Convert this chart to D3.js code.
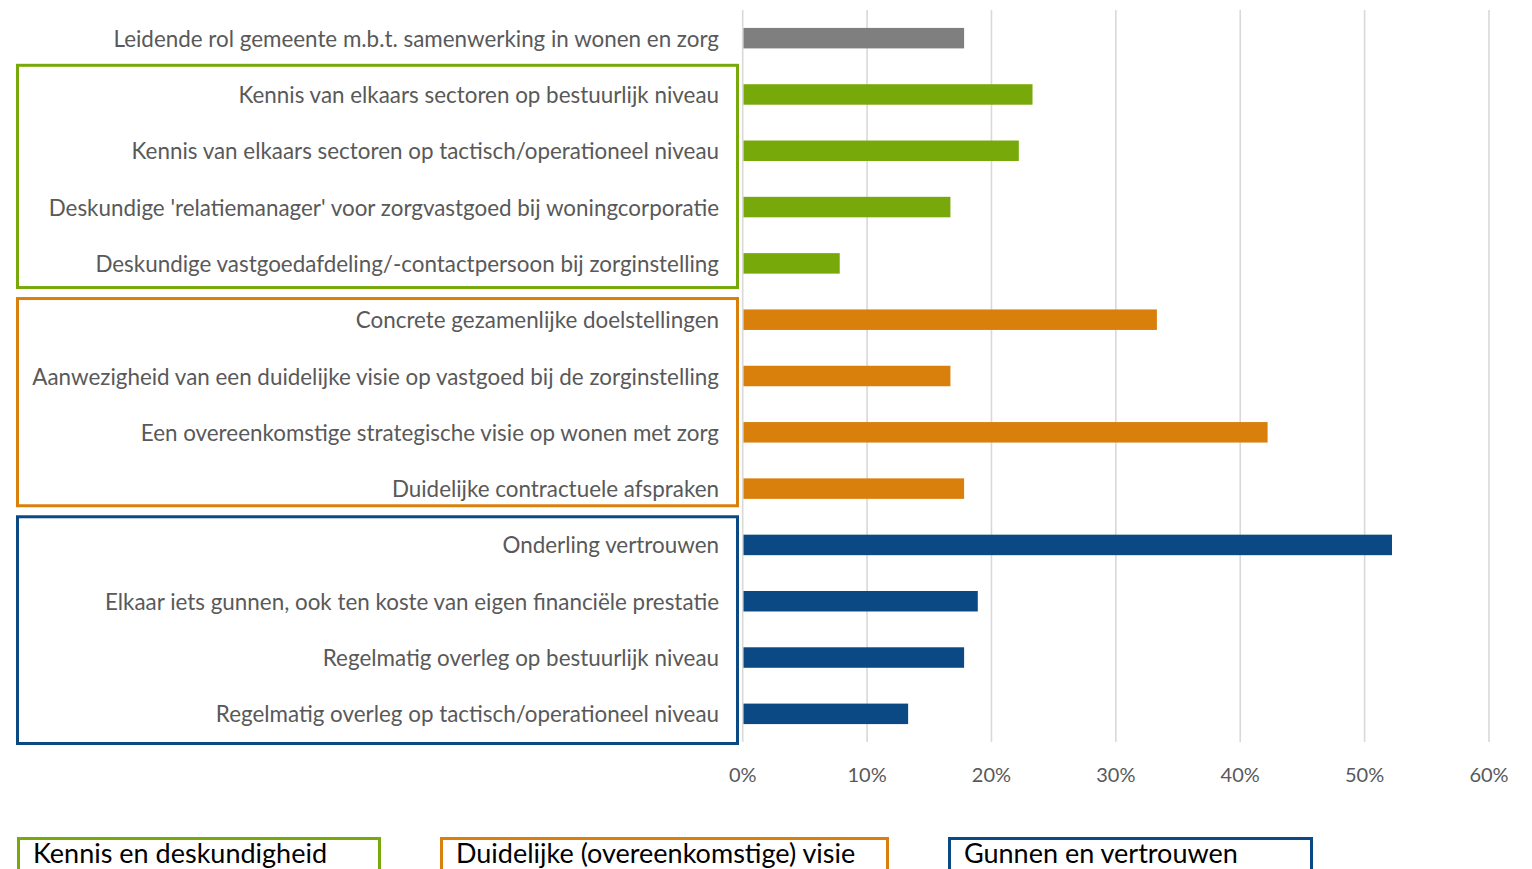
<!DOCTYPE html>
<html>
<head>
<meta charset="utf-8">
<script src="https://cdn.jsdelivr.net/npm/d3@7"></script>
<style>
  html, body { margin: 0; padding: 0; background: #fff; overflow: hidden; }
  svg { display: block; font-family: Lato, "Open Sans", sans-serif; }
</style>
</head>
<body>
<svg id="chart" width="1532" height="869"></svg>
<script>
// Factors for successful cooperation between housing and care (share of respondents, %)
const categories = [
  "Leidende rol gemeente m.b.t. samenwerking in wonen en zorg",
  "Kennis van elkaars sectoren op bestuurlijk niveau",
  "Kennis van elkaars sectoren op tactisch/operationeel niveau",
  "Deskundige 'relatiemanager' voor zorgvastgoed bij woningcorporatie",
  "Deskundige vastgoedafdeling/-contactpersoon bij zorginstelling",
  "Concrete gezamenlijke doelstellingen",
  "Aanwezigheid van een duidelijke visie op vastgoed bij de zorginstelling",
  "Een overeenkomstige strategische visie op wonen met zorg",
  "Duidelijke contractuele afspraken",
  "Onderling vertrouwen",
  "Elkaar iets gunnen, ook ten koste van eigen financiële prestatie",
  "Regelmatig overleg op bestuurlijk niveau",
  "Regelmatig overleg op tactisch/operationeel niveau"
];
const values = [17.8, 23.3, 22.2, 16.7, 7.8, 33.3, 16.7, 42.2, 17.8, 52.2, 18.9, 17.8, 13.3];

// group index per category (-1 = no group)
const categoryGroup = [-1, 0, 0, 0, 0, 1, 1, 1, 1, 2, 2, 2, 2];
const groupNames = ["Kennis en deskundigheid", "Duidelijke (overeenkomstige) visie", "Gunnen en vertrouwen"];
const groupColors = ["#78a90b", "#d97f0b", "#0b4985"];
const ungroupedColor = "#7f7f7f";

const xTicks = [0, 10, 20, 30, 40, 50, 60];
const xTickLabels = ["0%", "10%", "20%", "30%", "40%", "50%", "60%"];

// ---- layout ----
const svg = d3.select("#chart");
const plotLeft = 742.7, plotRight = 1489, plotTop = 10, plotBottom = 742;
const labelX = 719;
const textGrey = "#595959";

const x = d3.scaleLinear().domain([0, 60]).range([plotLeft, plotRight]);
const y = d3.scaleBand().domain(categories).range([plotTop, plotBottom])
  .paddingInner(0.636).paddingOuter(0.318);

// gridlines (the 0% line doubles as the category axis)
svg.append("g").selectAll("line").data(xTicks).join("line")
  .attr("x1", d => x(d)).attr("x2", d => x(d))
  .attr("y1", plotTop).attr("y2", plotBottom)
  .attr("stroke", "#d9d9d9").attr("stroke-width", 1.6);

// tick labels
svg.append("g").selectAll("text").data(xTicks).join("text")
  .attr("x", d => x(d)).attr("y", 774)
  .attr("text-anchor", "middle").attr("dominant-baseline", "central")
  .attr("font-size", 20).attr("fill", textGrey)
  .text((d, i) => xTickLabels[i]);

// bars
const colorOf = i => categoryGroup[i] < 0 ? ungroupedColor : groupColors[categoryGroup[i]];
svg.append("g").selectAll("rect").data(values).join("rect")
  .attr("x", x(0) + 0.8)
  .attr("y", (d, i) => y(categories[i]))
  .attr("width", d => x(d) - x(0) - 0.8)
  .attr("height", y.bandwidth())
  .attr("fill", (d, i) => colorOf(i));

// category labels
svg.append("g").selectAll("text").data(categories).join("text")
  .attr("x", labelX)
  .attr("y", d => y(d) + y.bandwidth() / 2)
  .attr("text-anchor", "end").attr("dominant-baseline", "central")
  .attr("font-size", 22.4).attr("fill", textGrey)
  .text(d => d);

// group frames around the category labels
const frameInset = [[-2.5, -2.5], [5.5, -9.5], [-1.5, 3]];
const step = y.step();
groupNames.forEach((name, g) => {
  const rows = categories.filter((c, i) => categoryGroup[i] === g);
  const top = y(rows[0]) - (step - y.bandwidth()) / 2 + frameInset[g][0];
  const bottom = y(rows[rows.length - 1]) + y.bandwidth() + (step - y.bandwidth()) / 2 + frameInset[g][1];
  svg.append("rect")
    .attr("x", 17.5).attr("y", top + 1.5)
    .attr("width", 720).attr("height", bottom - top - 3)
    .attr("fill", "none").attr("stroke", groupColors[g]).attr("stroke-width", 3);
});

// legend boxes along the bottom edge
const legendLeft = [18.5, 441.5, 949.5];
const legendWidth = [361, 446, 362];
groupNames.forEach((name, g) => {
  svg.append("rect")
    .attr("x", legendLeft[g]).attr("y", 838.5)
    .attr("width", legendWidth[g]).attr("height", 60)
    .attr("fill", "none").attr("stroke", groupColors[g]).attr("stroke-width", 3);
  svg.append("text")
    .attr("x", legendLeft[g] + 14.5).attr("y", 863)
    .attr("font-size", 27).attr("fill", "#000")
    .text(name);
});
</script>
</body>
</html>
